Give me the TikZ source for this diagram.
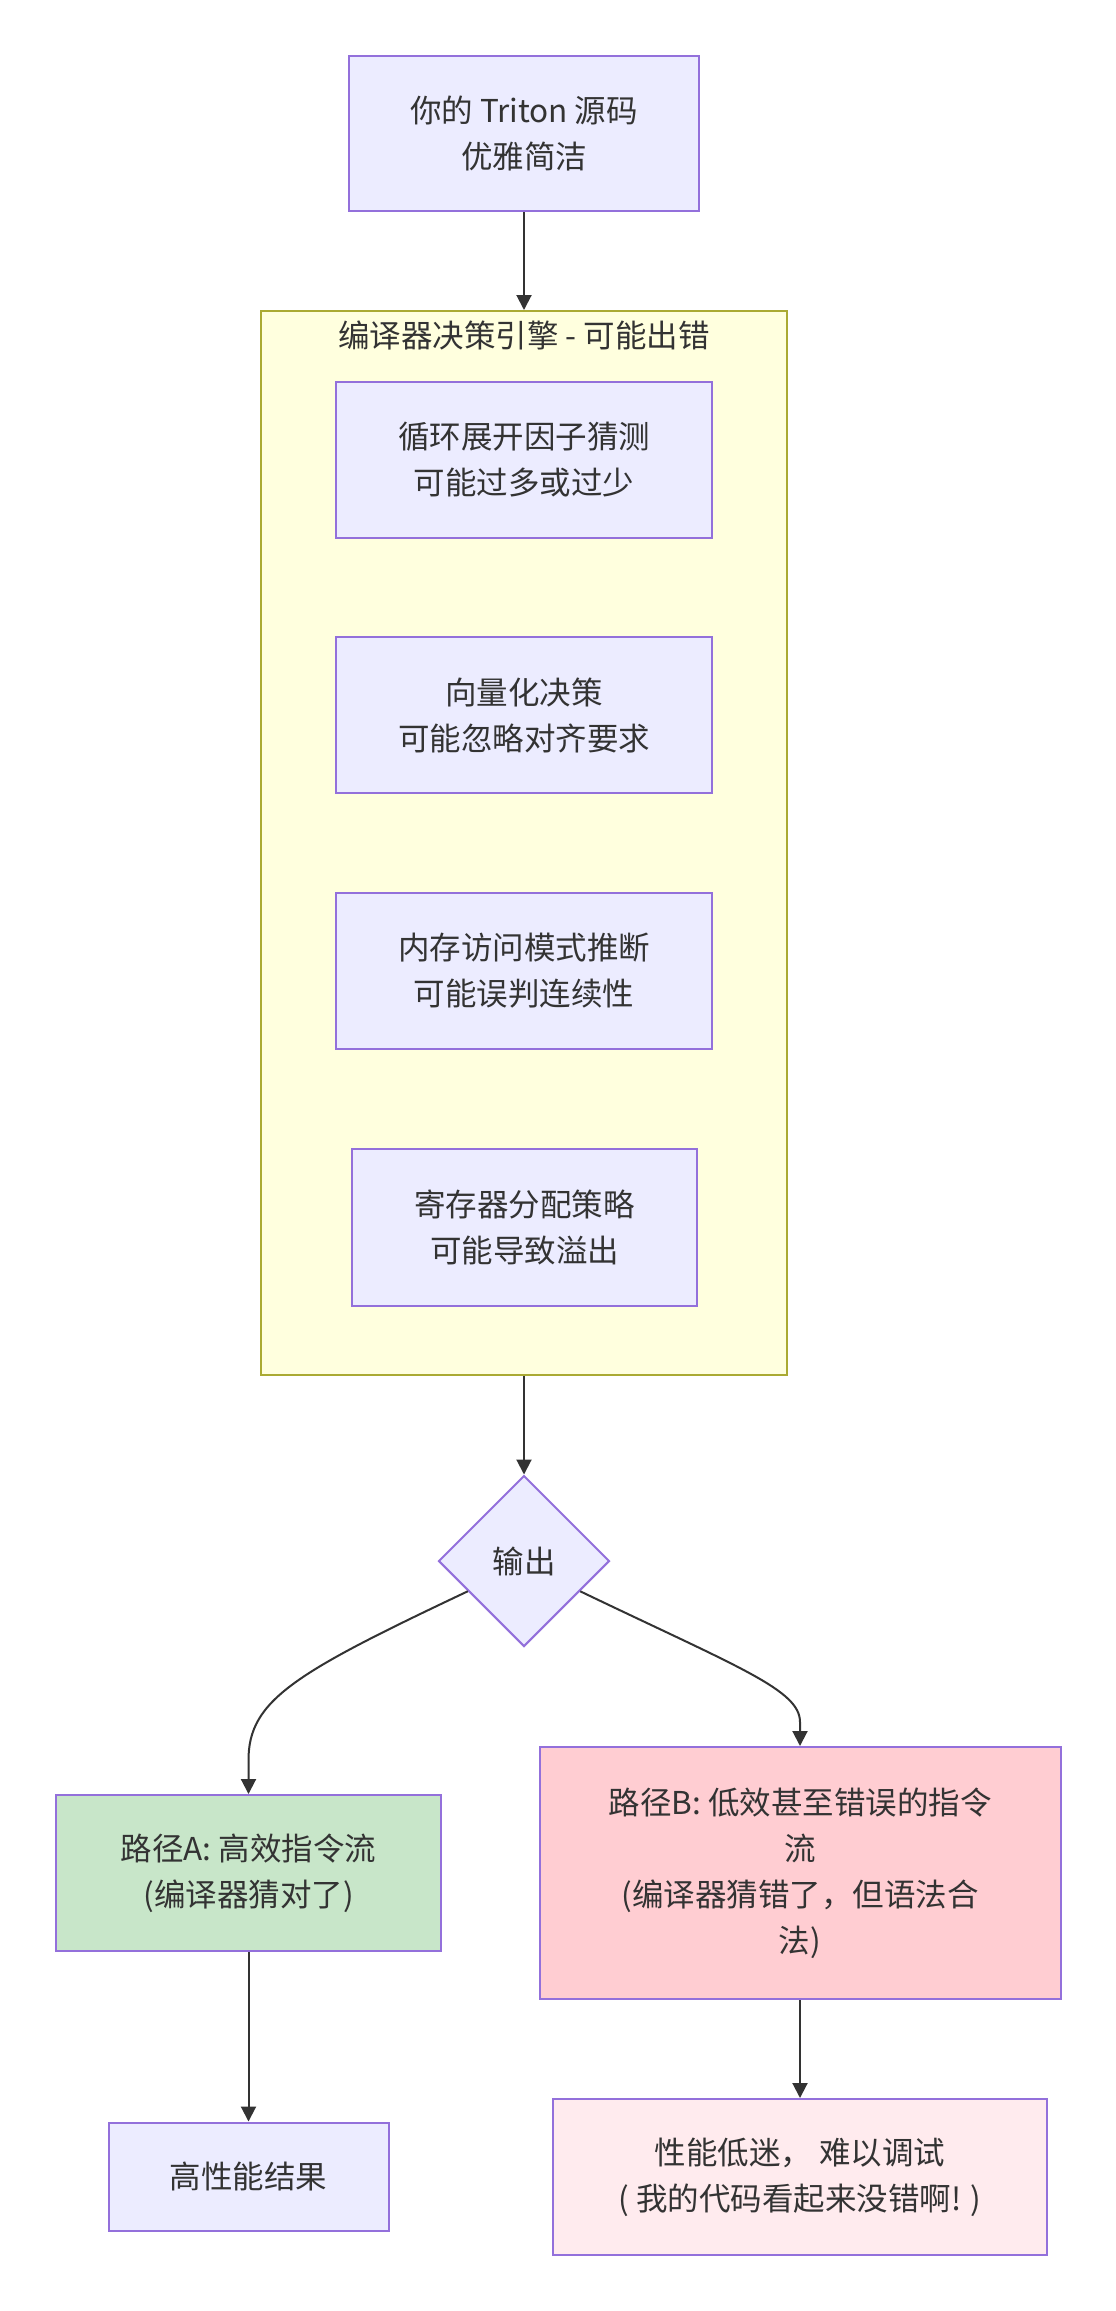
\documentclass[tikz,border=0pt]{standalone}
\usepackage{fontspec}
\setmainfont{Noto Sans CJK SC}
\usetikzlibrary{arrows.meta,shapes.geometric,calc}
\definecolor{nodefill}{HTML}{ECECFF}
\definecolor{nodestroke}{HTML}{9370DB}
\definecolor{clfill}{HTML}{FFFFDE}
\definecolor{clstroke}{HTML}{AAAA33}
\definecolor{txt}{HTML}{333333}
\definecolor{greenfill}{HTML}{C8E6C9}
\definecolor{pinkfill}{HTML}{FFCDD2}
\definecolor{lpinkfill}{HTML}{FFEBEE}
\begin{document}
\begin{tikzpicture}[x=1pt,y=-1pt,
  base/.style={font=\fontsize{31.5pt}{46pt}\selectfont, text=txt, align=center, inner sep=0pt},
  box/.style={base, draw=nodestroke, fill=nodefill, line width=2pt, rectangle},
  edge/.style={draw=txt, line width=2pt, -{Triangle[length=15pt,width=15pt]}}]
\useasboundingbox (0,0) rectangle (1116,2311);
\fill[white] (0,0) rectangle (1116,2311);

\node[box, minimum width=350pt, minimum height=155pt] (src) at (524,133.5) {你的 Triton 源码\\优雅简洁};

\node[draw=clstroke, fill=clfill, line width=2pt, minimum width=526pt, minimum height=1064pt, inner sep=0pt] (cl) at (524,843) {};
\node[base] (cltitle) at (524,335) {编译器决策引擎 - 可能出错};

\node[box, minimum width=376pt, minimum height=156pt] (b1) at (524,460) {循环展开因子猜测\\可能过多或过少};
\node[box, minimum width=376pt, minimum height=156pt] (b2) at (524,715) {向量化决策\\可能忽略对齐要求};
\node[box, minimum width=376pt, minimum height=156pt] (b3) at (524,971) {内存访问模式推断\\可能误判连续性};
\node[box, minimum width=345pt, minimum height=157pt] (b4) at (524.5,1227.5) {寄存器分配策略\\可能导致溢出};

\node[base, shape=diamond, draw=nodestroke, fill=nodefill, line width=2pt, minimum width=171pt, minimum height=171pt] (out) at (524,1561) {输出};

\node[box, fill=greenfill, minimum width=385pt, minimum height=156pt] (pa) at (248.5,1873) {路径A: 高效指令流\\(编译器猜对了)};
\node[box, fill=pinkfill, minimum width=521pt, minimum height=252pt] (pb) at (800,1873) {路径B: 低效甚至错误的指令\\流\\(编译器猜错了，但语法合\\法)};

\node[box, minimum width=280pt, minimum height=108pt] (ra) at (248.5,2176.5) {高性能结果};
\node[box, fill=lpinkfill, minimum width=494pt, minimum height=156pt] (rb) at (800,2177) {性能低迷， 难以调试\\( 我的代码看起来没错啊! )};

\coordinate (oa) at ($(out.west)!0.35!(out.south)$);
\coordinate (ob) at ($(out.east)!0.35!(out.south)$);

\draw[edge] (src.south) -- (cl.north);
\draw[edge] (cl.south) -- (out.north);
\draw[edge] (oa) .. controls (295,1673) and (248.5,1700) .. (248.5,1760) -- (pa.north);
\draw[edge] (ob) .. controls (740,1668) and (800,1690) .. (800,1722) -- (pb.north);
\draw[edge] (pa.south) -- (ra.north);
\draw[edge] (pb.south) -- (rb.north);
\end{tikzpicture}
\end{document}
